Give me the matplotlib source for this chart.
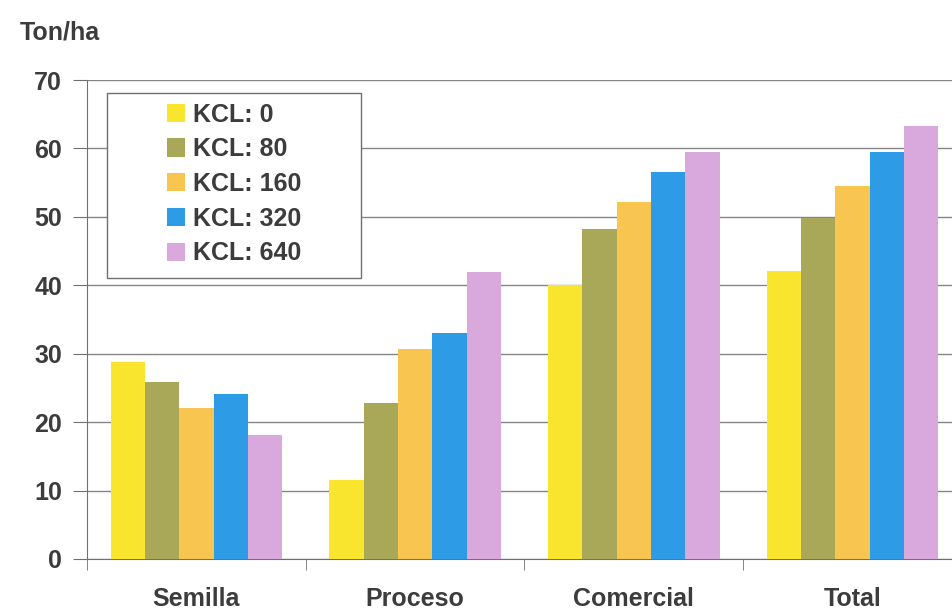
import matplotlib.pyplot as plt
import numpy as np
from matplotlib.patches import Rectangle, Patch

plt.rcParams['font.family'] = ['Liberation Sans', 'DejaVu Sans']

categories = ["Semilla", "Proceso", "Comercial", "Total"]
series_labels = ["KCL: 0", "KCL: 80", "KCL: 160", "KCL: 320", "KCL: 640"]
kcl_0 = [28.8, 11.5, 40.0, 42.1]
kcl_80 = [25.8, 22.8, 48.2, 49.8]
kcl_160 = [22.0, 30.7, 52.1, 54.5]
kcl_320 = [24.1, 33.0, 56.6, 59.5]
kcl_640 = [18.1, 42.0, 59.5, 63.3]
yticks = [0, 10, 20, 30, 40, 50, 60, 70]

series = [kcl_0, kcl_80, kcl_160, kcl_320, kcl_640]
colors = ["#FAE52E", "#A8A858", "#F8C550", "#2E9BE6", "#D9A8DC"]
text_color = "#3c3c3c"
fs = 18

fig = plt.figure(figsize=(9.52, 6.10), dpi=100)
ax = fig.add_axes([87 / 952, 1 - 559 / 610, 865 / 952, 479 / 610])

x = np.arange(len(categories))
width = 0.157
for i, (vals, col) in enumerate(zip(series, colors)):
    ax.bar(x + (i - 2) * width, vals, width, color=col, zorder=3)

ax.set_xlim(-0.5, -0.5 + 865 / 218.7)
ax.set_ylim(0, 70)
ax.set_yticks(yticks)
ax.yaxis.grid(True, color="#858585", linewidth=1.0, zorder=0)
ax.set_axisbelow(True)

for s in ["top", "right"]:
    ax.spines[s].set_visible(False)
ax.spines["left"].set_color("#707070")
ax.spines["bottom"].set_color("#707070")

ax.set_xticks(x)
ax.set_xticklabels(categories, fontsize=fs, fontweight="bold", color=text_color)
ax.set_xticks([-0.5, 0.5, 1.5, 2.5], minor=True)
ax.tick_params(axis="x", which="major", length=0, pad=20)
ax.tick_params(axis="x", which="minor", length=8, color="#707070", direction="out")
ax.tick_params(axis="y", length=10, color="#707070", pad=8,
               labelsize=fs, labelcolor=text_color)
for lbl in ax.get_yticklabels():
    lbl.set_fontweight("bold")

fig.text(20 / 952, 1 - 32 / 610, "Ton/ha", fontsize=fs, fontweight="bold",
         color=text_color, va="center", ha="left")

# legend box
box = Rectangle((107 / 952, 1 - 278 / 610), (361 - 107) / 952, (278 - 93) / 610,
                transform=fig.transFigure, facecolor="white",
                edgecolor="#707070", linewidth=1.0, zorder=5)
fig.patches.append(box)

handles = [Patch(facecolor=c, edgecolor="none") for c in colors]
leg = fig.legend(handles, series_labels, loc="upper left",
                 bbox_to_anchor=(149 / 952, 1 - 85 / 610),
                 frameon=False, fontsize=fs, handlelength=0.75,
                 handleheight=0.75, handletextpad=0.3,
                 labelspacing=0.43, borderpad=0.2)
leg.set_zorder(6)
for t in leg.get_texts():
    t.set_fontweight("bold")
    t.set_color(text_color)

fig.savefig("out.png", dpi=100)
